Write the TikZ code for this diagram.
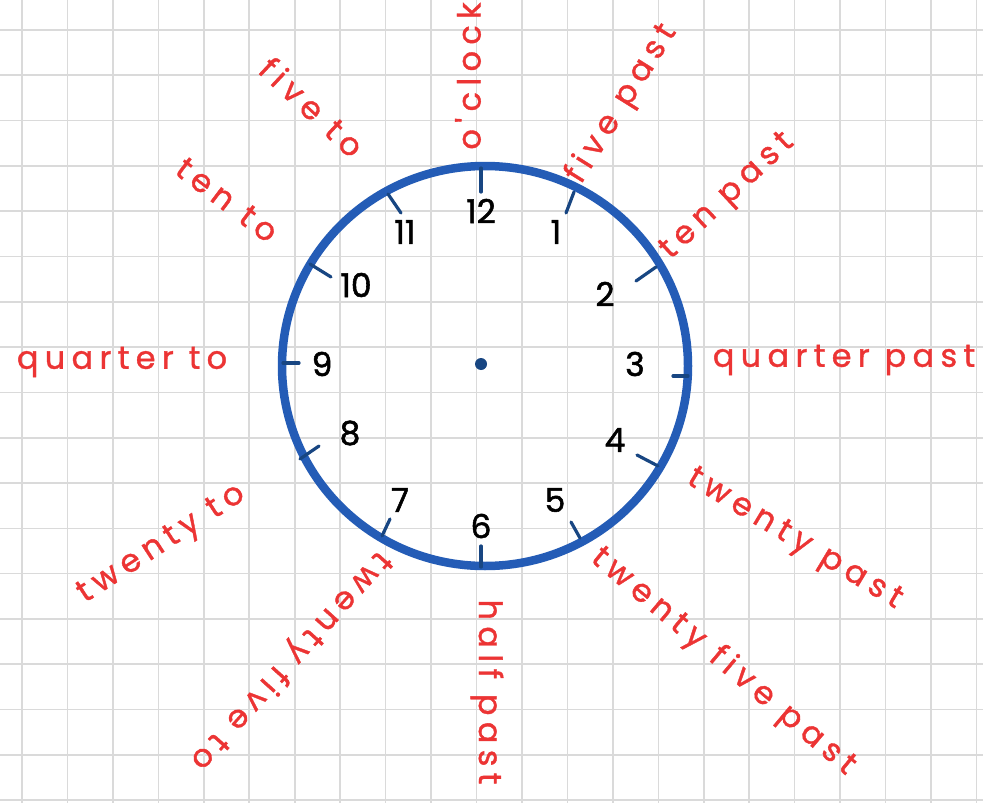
\documentclass[tikz,border=0pt]{standalone}
\usepackage{fontspec}
\setmainfont{Poppins}
\newfontfamily\handfont{Poppins}[LetterSpace=20, FakeBold=1.2]
\newfontfamily\digitfont{Poppins}[FakeBold=1.6]
\usepackage{tikz}
\usetikzlibrary{calc}

\definecolor{penred}{RGB}{236,52,52}
\definecolor{penblue}{RGB}{36,92,182}
\definecolor{tickblue}{RGB}{24,70,130}
\definecolor{gridgray}{RGB}{218,218,218}

\begin{document}
\begin{tikzpicture}[x=1bp, y=-1bp,
            gridline/.style={draw=gridgray, line width=1.6bp},
            dial/.style={draw=penblue, line width=8.5bp},
            hourtick/.style={draw=tickblue, line width=3.2bp, line cap=round},
            hnum/.style={font=\digitfont\fontsize{33}{35}\selectfont, text=black, inner sep=0pt},
            phrase/.style={font=\handfont\fontsize{32}{34}\selectfont, text=penred, inner sep=0pt}
        ]
        \useasboundingbox (0,0) rectangle (983,803);
        \fill[white] (0,0) rectangle (983,803);

        % --- squared paper ---
        \foreach \i in {0,...,21}
            \draw[gridline] (22+45.45*\i,0) -- (22+45.45*\i,803);
        \foreach \j in {0,...,17}
            \draw[gridline] (0,30+45.3*\j) -- (983,30+45.3*\j);

        % --- clock face ---
        \coordinate (c) at (485,366);
        \draw[dial] (c) ellipse [x radius=203, y radius=200];
        \node[circle, fill=tickblue, inner sep=0pt, minimum size=12bp] (hub) at (481,364) {};

        % --- hour ticks ---
        \draw[hourtick] (481,168) -- (481,192);
        \draw[hourtick] (574,192) -- (566,213);
        \draw[hourtick] (656,267) -- (636,281);
        \draw[hourtick] (688,376) -- (673,376);
        \draw[hourtick] (658,466) -- (637,455);
        \draw[hourtick] (580,538) -- (571,522);
        \draw[hourtick] (481,567) -- (481,546);
        \draw[hourtick] (382,536) -- (390,519);
        \draw[hourtick] (300,459) -- (319,446);
        \draw[hourtick] (283,363) -- (299,363);
        \draw[hourtick] (310,264) -- (331,277);
        \draw[hourtick] (388,194) -- (401,213);

        % --- hour numbers ---
        \node[hnum] (h12) at (481,211) {12};
        \node[hnum] (h1) at (556,232) {1};
        \node[hnum] (h2) at (605,294) {2};
        \node[hnum] (h3) at (635,364) {3};
        \node[hnum] (h4) at (615,440) {4};
        \node[hnum] (h5) at (555,500) {5};
        \node[hnum] (h6) at (481,526) {6};
        \node[hnum] (h7) at (400,500) {7};
        \node[hnum] (h8) at (350,433) {8};
        \node[hnum] (h9) at (322,364) {9};
        \node[hnum] (h10) at (356,285) {10};
        \node[hnum] (h11) at (405,232) {11};

        % --- past side ---
        \node[phrase, rotate=90] (oclock) at (468,76) {o'clock};
        \node[phrase, rotate=58] (fivepast) at (622,104) {five past};
        \node[phrase, rotate=43] (tenpast) at (728,197) {ten past};
        \node[phrase] (qpast) at (844,360) {quarter past};
        \node[phrase, rotate=-31] (twentypast) at (794,540) {twenty past};
        \node[phrase, rotate=-40] (twentyfivepast) at (723,662) {twenty five past};
        \node[phrase, rotate=-90] (halfpast) at (487,692) {half past};

        % --- to side ---
        \node[phrase, rotate=228] (twentyfiveto) at (290,660) {twenty five to};
        \node[phrase, rotate=33] (twentyto) at (162,545) {twenty to};
        \node[phrase] (qto) at (122,362) {quarter to};
        \node[phrase, rotate=-37] (tento) at (227,200) {ten to};
        \node[phrase, rotate=-43] (fiveto) at (312,107) {five to};
        \end{tikzpicture}
\end{document}
